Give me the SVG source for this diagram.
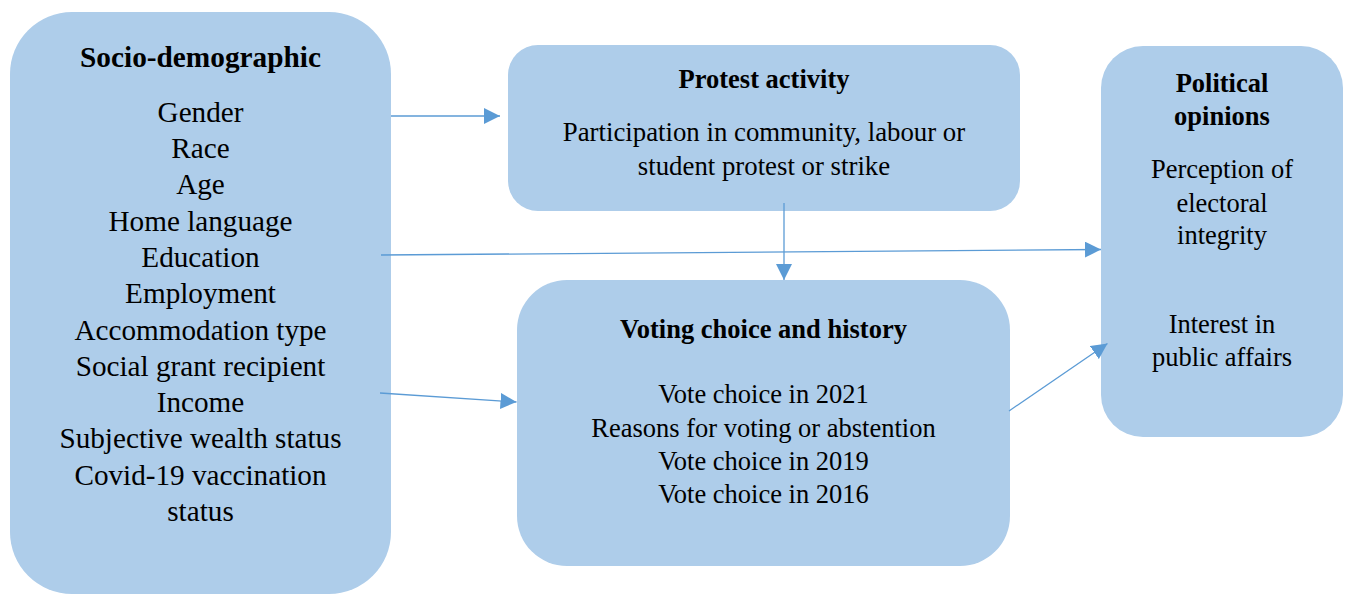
<svg xmlns="http://www.w3.org/2000/svg" width="1349" height="595" viewBox="0 0 1349 595">
  <style>
    .box { fill: #AECDEA; stroke: none; }
    .title { font-family: "Liberation Serif", "Times New Roman", serif; font-weight: bold; font-size: 26.5px; fill: #000; text-anchor: middle; }
    .big { font-size: 29.3px; }
    .body { font-family: "Liberation Serif", "Times New Roman", serif; font-size: 26.5px; fill: #000; text-anchor: middle; }
    .large { font-size: 29.2px; }
    .mid { font-size: 26.8px; }
    .link { stroke: #5B9BD5; stroke-width: 1.3; fill: none; marker-end: url(#head); }
  </style>
  <defs>
    <marker id="head" markerUnits="userSpaceOnUse" markerWidth="16" markerHeight="16" refX="16" refY="8" orient="auto">
      <path d="M0,0 L16,8 L0,16 Z" fill="#5B9BD5"/>
    </marker>
  </defs>

  <rect width="1349" height="595" fill="#FFFFFF"/>

  <!-- Socio-demographic -->
  <g id="socio">
    <rect class="box" x="10" y="12" width="381" height="582" rx="62" ry="62"/>
    <text class="title big" x="200.5" y="67">Socio-demographic</text>
    <text class="body large" x="200.5" y="121.7">Gender</text>
    <text class="body large" x="200.5" y="158">Race</text>
    <text class="body large" x="200.5" y="194.3">Age</text>
    <text class="body large" x="200.5" y="230.6">Home language</text>
    <text class="body large" x="200.5" y="266.9">Education</text>
    <text class="body large" x="200.5" y="303.2">Employment</text>
    <text class="body large" x="200.5" y="339.5">Accommodation type</text>
    <text class="body large" x="200.5" y="375.8">Social grant recipient</text>
    <text class="body large" x="200.5" y="412.1">Income</text>
    <text class="body large" x="200.5" y="448.4">Subjective wealth status</text>
    <text class="body large" x="200.5" y="484.7">Covid-19 vaccination</text>
    <text class="body large" x="200.5" y="521">status</text>
  </g>

  <!-- Protest activity -->
  <g id="protest">
    <rect class="box" x="508" y="45" width="512" height="166" rx="30" ry="30"/>
    <text class="title" x="764" y="88.3">Protest activity</text>
    <text class="body mid" x="764" y="141">Participation in community, labour or</text>
    <text class="body mid" x="764" y="175">student protest or strike</text>
  </g>

  <!-- Voting choice and history -->
  <g id="voting">
    <rect class="box" x="517" y="280" width="493" height="286" rx="50" ry="50"/>
    <text class="title" x="763.5" y="338.3">Voting choice and history</text>
    <text class="body" x="763.5" y="403.3">Vote choice in 2021</text>
    <text class="body" x="763.5" y="436.6">Reasons for voting or abstention</text>
    <text class="body" x="763.5" y="469.9">Vote choice in 2019</text>
    <text class="body" x="763.5" y="503.2">Vote choice in 2016</text>
  </g>

  <!-- Political opinions -->
  <g id="political">
    <rect class="box" x="1101" y="46" width="242" height="391" rx="42" ry="42"/>
    <text class="title" x="1222" y="91.7">Political</text>
    <text class="title" x="1222" y="125">opinions</text>
    <text class="body" x="1222" y="178.3">Perception of</text>
    <text class="body" x="1222" y="211.7">electoral</text>
    <text class="body" x="1222" y="243.8">integrity</text>
    <text class="body" x="1222" y="332.7">Interest in</text>
    <text class="body" x="1222" y="366">public affairs</text>
  </g>

  <!-- Connectors -->
  <g id="connectors">
    <line class="link" x1="391" y1="116" x2="500" y2="116"/>
    <line class="link" x1="381" y1="255" x2="1101" y2="249.5"/>
    <line class="link" x1="380" y1="393" x2="516.5" y2="402"/>
    <line class="link" x1="784" y1="203" x2="784" y2="280"/>
    <line class="link" x1="1009" y1="411" x2="1107.5" y2="343.5"/>
  </g>
</svg>
